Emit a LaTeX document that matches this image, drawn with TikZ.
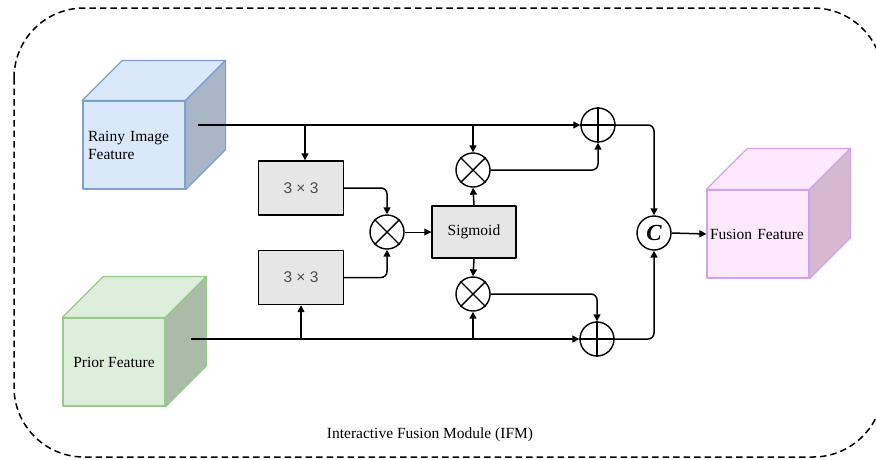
\documentclass[tikz,border=0pt]{standalone}
\usepackage{fontspec}
\setmainfont{Liberation Serif}
\newfontfamily\arialfont{Liberation Sans}
\usetikzlibrary{arrows.meta,calc}
\definecolor{rainyF}{HTML}{DAE8FC}
\definecolor{rainyB}{HTML}{7F9FCF}
\definecolor{rainyS}{HTML}{A9B6C8}
\definecolor{priorF}{HTML}{DDEEDB}
\definecolor{priorB}{HTML}{97C98A}
\definecolor{priorS}{HTML}{AABBA7}
\definecolor{fusF}{HTML}{FDE8FD}
\definecolor{fusB}{HTML}{CFA2F2}
\definecolor{fusS}{HTML}{D6B9CF}
\definecolor{boxF}{HTML}{E6E6E6}
\tikzset{
  conn/.style={line width=1.5pt, -{Triangle[length=7pt,width=7pt]}, rounded corners=6pt},
  op/.style={circle, draw, fill=white, line width=1.4pt, minimum size=34pt, inner sep=0pt},
  convbox/.style={draw, fill=boxF, line width=1.4pt, minimum width=85pt, minimum height=54pt,
     font=\arialfont\fontsize{15.5}{18}\selectfont, text=black!70},
  sigbox/.style={draw, fill=boxF, line width=1.4pt, minimum width=84pt, minimum height=52pt,
     font=\rmfamily\fontsize{15.5}{18}\selectfont},
  face/.style={draw, line width=1.2pt, minimum width=102pt, minimum height=88pt, inner sep=0pt,
     font=\rmfamily\fontsize{15.5}{18}\selectfont},
  border/.style={draw=black, line width=1.5pt, dash pattern=on 6.5pt off 4pt, rounded corners=70pt},
}
\begin{document}
\begin{tikzpicture}[x=1pt,y=-1pt,line join=round]
\useasboundingbox (0,0) rectangle (876,459);
\clip (0,0) rectangle (876,459);
\draw[border] (14,8) rectangle (883,457);

% Rainy cube
\node[face, fill=rainyF, draw=rainyB, text width=92pt, align=left] (rainy) at (134,145) {Rainy Image\\Feature};
\filldraw[fill=rainyF, draw=rainyB, line width=1.2pt] (rainy.north west) -- ++(40,-40) -- ($(rainy.north east)+(40,-40)$) -- (rainy.north east) -- cycle;
\filldraw[fill=rainyS, draw=rainyB, line width=1.2pt] (rainy.north east) -- ++(40,-40) -- ($(rainy.south east)+(40,-40)$) -- (rainy.south east) -- cycle;

% Prior cube
\node[face, fill=priorF, draw=priorB] (prior) at (114,362) {Prior Feature};
\filldraw[fill=priorF, draw=priorB, line width=1.2pt] (prior.north west) -- ++(41,-41) -- ($(prior.north east)+(41,-41)$) -- (prior.north east) -- cycle;
\filldraw[fill=priorS, draw=priorB, line width=1.2pt] (prior.north east) -- ++(41,-41) -- ($(prior.south east)+(41,-41)$) -- (prior.south east) -- cycle;

% Fusion cube
\node[face, fill=fusF, draw=fusB, text width=96pt, align=left] (fusion) at (758,234) {Fusion Feature};
\filldraw[fill=fusF, draw=fusB, line width=1.2pt] (fusion.north west) -- ++(41,-41) -- ($(fusion.north east)+(41,-41)$) -- (fusion.north east) -- cycle;
\filldraw[fill=fusS, draw=fusB, line width=1.2pt] (fusion.north east) -- ++(41,-41) -- ($(fusion.south east)+(41,-41)$) -- (fusion.south east) -- cycle;

\coordinate (rainyout) at (198,125);
\coordinate (priorout) at (191,339);

% Blocks
\node[convbox] (top) at (301,188) {3 × 3};
\node[convbox] (bot) at (301,277.5) {3 × 3};
\node[sigbox] (sig) at (474,232) {Sigmoid};

% Operators
\node[op] (m0) at (387,232) {};
\node[op] (mu) at (473,170) {};
\node[op] (ml) at (473,294) {};
\node[op] (p1) at (598,125) {};
\node[op] (p2) at (597,339) {};
\node[op, font=\rmfamily\fontsize{23}{23}\selectfont\bfseries\itshape] (C) at (654,233) {C};

\foreach \m in {m0,mu,ml}{
  \draw[line width=1.4pt] (\m.north west) -- (\m.south east) (\m.north east) -- (\m.south west);
}
\foreach \p in {p1,p2}{
  \draw[line width=1.4pt] (\p.north) -- (\p.south) (\p.west) -- (\p.east);
}

% Connectors
\draw[conn] (rainyout) -- (p1.west);
\draw[conn] (rainyout -| 305,0) -- (305,0 |- top.north);
\draw[conn] (rainyout -| mu.north) -- (mu.north);
\draw[conn] (mu.east) -| (p1.south);
\draw[conn] (p1.east) -| (C.north);
\draw[conn] (top.east) -| (m0.north);
\draw[conn] (bot.east) -| (m0.south);
\draw[conn, line width=0.9pt] (m0.east) -- (sig.west);
\draw[conn] (sig.north) -- (mu.south);
\draw[conn] (sig.south) -- (ml.north);
\draw[conn] (priorout) -- (p2.west);
\draw[conn] (priorout -| bot.south) -- (bot.south);
\draw[conn] (priorout -| ml.south) -- (ml.south);
\draw[conn] (ml.east) -| (p2.north);
\draw[conn] (p2.east) -| (C.south);
\draw[conn] (C.east) -- (fusion.west);

\node[font=\rmfamily\fontsize{15.5}{18}\selectfont] (cap) at (430,435) {Interactive Fusion Module (IFM)};
\end{tikzpicture}
\end{document}
